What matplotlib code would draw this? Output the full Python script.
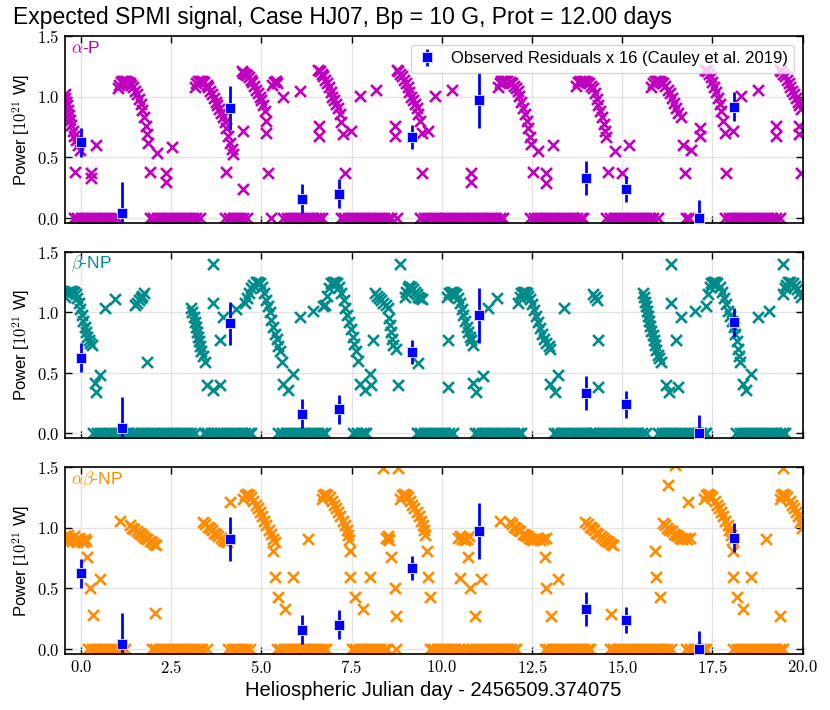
import numpy as np
import matplotlib
matplotlib.use('Agg')
import matplotlib.pyplot as plt
from matplotlib.ticker import FuncFormatter, MultipleLocator

plt.rcParams['font.family'] = ['Liberation Sans', 'DejaVu Sans']
plt.rcParams['mathtext.fontset'] = 'cm'

# observed residuals (Cauley et al. 2019), scaled x16
obs_t = [0.0, 1.14, 4.13, 6.13, 7.15, 9.18, 11.03, 14.0, 15.1, 17.13, 18.09]
obs_p = [0.625, 0.04, 0.91, 0.16, 0.20, 0.67, 0.975, 0.333, 0.24, 0.0, 0.92]
obs_err = [0.12, 0.26, 0.18, 0.12, 0.12, 0.10, 0.23, 0.14, 0.11, 0.15, 0.12]

# ---- alpha-P ----
alpha_curve_t = [-0.45, -0.43, -0.41, -0.39, -0.37, -0.34, -0.31, -0.27, -0.23, -0.18, -0.13, -0.08, -0.03,
                 1.03, 1.06, 1.10, 1.15, 1.20, 1.25, 1.30, 1.35, 1.40, 1.45, 1.50, 1.55, 1.60, 1.65, 1.70, 1.75, 1.80, 1.84, 1.87,
                 3.16, 3.20, 3.25, 3.30, 3.36, 3.42, 3.48, 3.53, 3.58, 3.63, 3.68, 3.73, 3.78, 3.83, 3.88, 3.93, 3.98, 4.03, 4.08, 4.13, 4.18,
                 4.45, 4.50, 4.55, 4.60, 4.65, 4.70, 4.75, 4.80, 4.85, 4.90, 4.95, 5.00, 5.05, 5.10, 5.12, 5.14,
                 6.57, 6.62, 6.67, 6.72, 6.77, 6.82, 6.87, 6.92, 6.97, 7.02, 7.07, 7.12, 7.17, 7.20, 7.27,
                 8.75, 8.80, 8.85, 8.90, 8.95, 9.00, 9.05, 9.10, 9.15, 9.20, 9.25, 9.30, 9.34, 9.39, 9.44,
                 11.56, 11.60, 11.65, 11.70, 11.76, 11.82, 11.88, 11.94, 12.00, 12.05, 12.10, 12.15, 12.20, 12.25, 12.30, 12.35, 12.40, 12.44, 12.47,
                 13.73, 13.78, 13.84, 13.90, 13.96, 14.02, 14.08, 14.14, 14.19, 14.24, 14.29, 14.34, 14.39, 14.44, 14.49, 14.53, 14.56,
                 15.80, 15.85, 15.90, 15.96, 16.02, 16.08, 16.14, 16.20, 16.26, 16.32, 16.38, 16.44, 16.50, 16.56, 16.62,
                 17.30, 17.35, 17.40, 17.45, 17.50, 17.55, 17.60, 17.65, 17.70, 17.75, 17.79, 17.84,
                 19.36, 19.41, 19.46, 19.51, 19.56, 19.61, 19.66, 19.71, 19.76, 19.81, 19.86, 19.91, 19.96]
alpha_curve_p = [1.02, 0.99, 0.96, 0.93, 0.89, 0.85, 0.81, 0.77, 0.72, 0.68, 0.64, 0.60, 0.56,
                 1.07, 1.10, 1.12, 1.13, 1.13, 1.13, 1.12, 1.11, 1.10, 1.08, 1.05, 1.02, 0.98, 0.94, 0.89, 0.83, 0.76, 0.69, 0.62,
                 1.08, 1.11, 1.13, 1.13, 1.13, 1.12, 1.10, 1.08, 1.05, 1.02, 0.99, 0.96, 0.93, 0.90, 0.87, 0.83, 0.79, 0.74, 0.68, 0.62, 0.57,
                 1.21, 1.20, 1.19, 1.18, 1.16, 1.14, 1.12, 1.09, 1.06, 1.03, 1.00, 0.97, 0.93, 0.88, 0.80, 0.70,
                 1.22, 1.21, 1.19, 1.17, 1.14, 1.11, 1.08, 1.04, 1.00, 0.97, 0.94, 0.91, 0.86, 0.79, 0.69,
                 1.22, 1.21, 1.19, 1.17, 1.14, 1.11, 1.08, 1.04, 1.00, 0.97, 0.94, 0.91, 0.86, 0.80, 0.70,
                 1.08, 1.11, 1.13, 1.13, 1.13, 1.13, 1.12, 1.11, 1.09, 1.07, 1.05, 1.01, 0.96, 0.91, 0.86, 0.80, 0.74, 0.67, 0.61,
                 1.09, 1.12, 1.13, 1.13, 1.13, 1.12, 1.11, 1.09, 1.07, 1.03, 0.98, 0.93, 0.88, 0.83, 0.78, 0.72, 0.67,
                 1.08, 1.11, 1.13, 1.13, 1.13, 1.12, 1.11, 1.09, 1.06, 1.03, 0.99, 0.95, 0.91, 0.87, 0.83,
                 1.22, 1.21, 1.19, 1.16, 1.12, 1.08, 1.04, 0.99, 0.94, 0.88, 0.80, 0.70,
                 1.22, 1.21, 1.19, 1.17, 1.14, 1.11, 1.08, 1.05, 1.02, 0.99, 0.96, 0.93, 0.90]
alpha_scat_t = [-0.17, 0.28, 0.29, 0.42, 2.10, 2.51, 1.91, 2.35, 2.37, 4.22, 4.03, 4.48, 4.48, 5.19, 5.30, 5.35, 5.40, 5.44,
                5.60, 6.07, 6.60, 6.60, 7.31, 7.47, 7.73, 8.19, 8.70, 8.70, 9.62, 9.44, 9.80, 10.28, 10.82, 10.82,
                12.66, 13.08, 12.53, 12.90, 12.90, 14.79, 15.19, 14.61, 15.00, 16.69, 16.92, 17.15, 17.15, 16.74,
                18.07, 18.30, 18.76, 17.88, 19.27, 19.27, 19.90, 19.90, 19.96]
alpha_scat_p = [0.38, 0.37, 0.33, 0.60, 0.54, 0.59, 0.38, 0.37, 0.30, 0.53, 0.38, 0.72, 0.24, 0.37, 1.10, 1.12, 1.13, 1.11,
                1.00, 1.05, 0.76, 0.68, 0.375, 0.72, 1.01, 1.06, 0.76, 0.68, 0.72, 0.375, 1.01, 1.06, 0.37, 0.30,
                0.55, 0.60, 0.38, 0.37, 0.29, 0.55, 0.60, 0.38, 0.37, 0.60, 0.56, 0.74, 0.675, 0.375,
                0.72, 1.01, 1.06, 0.375, 0.76, 0.675, 0.76, 0.69, 0.37]
alpha_zero_t = [-0.2, -0.1, 0.0, 0.1, 0.2, 0.3, 0.4, 0.5, 0.6, 0.7, 0.8, 0.9, 1.0,
                1.9, 2.0, 2.1, 2.2, 2.3, 2.4, 2.5, 2.6, 2.7, 2.8, 2.9, 3.0, 3.1, 3.2, 3.3,
                4.0, 4.1, 4.2, 4.3, 4.4, 4.5, 4.6, 5.28,
                5.6, 5.7, 5.8, 5.9, 6.0, 6.1, 6.2, 6.3, 6.4, 6.5, 6.6, 6.68,
                7.2, 7.3, 7.4, 7.5, 7.6, 7.7, 7.8, 7.9, 8.0, 8.1, 8.2, 8.3, 8.4, 8.5, 8.6, 8.75,
                9.4, 9.5, 9.6, 9.7, 9.8, 9.9, 10.0, 10.1, 10.2, 10.3, 10.4, 10.5, 10.6, 10.7, 10.8, 10.9,
                11.0, 11.1, 11.2, 11.3, 11.4, 11.5, 11.6, 11.7,
                12.45, 12.55, 12.65, 12.75, 12.85, 12.95, 13.05, 13.15, 13.25, 13.35, 13.45, 13.55, 13.65, 13.75, 13.85, 13.92,
                14.56, 14.66, 14.76, 14.86, 14.96, 15.06, 15.16, 15.26, 15.36, 15.46, 15.56, 15.66, 15.76, 15.86, 16.0,
                16.76, 16.85,
                17.85, 17.95, 18.05, 18.15, 18.25, 18.35, 18.45, 18.55, 18.65, 18.75, 18.85, 18.95, 19.05, 19.15, 19.25, 19.36]

# ---- beta-NP ----
beta_curve_t = [-0.45, -0.40, -0.35, -0.30, -0.25, -0.20, -0.15, -0.10, -0.06, -0.02, 0.02, 0.06, 0.10, 0.14, 0.18, 0.22, 0.26, 0.30,
                1.50, 1.55, 1.60, 1.65, 1.70, 1.75,
                3.06, 3.09, 3.12, 3.15, 3.18, 3.21, 3.24, 3.27, 3.30, 3.33, 3.37, 3.43,
                4.54, 4.60, 4.66, 4.72, 4.78, 4.84, 4.90, 4.96, 5.02, 5.08, 5.13, 5.18, 5.23, 5.28, 5.33, 5.38, 5.42, 5.47, 5.51, 5.56,
                6.76, 6.82, 6.87, 6.92, 6.98, 7.04, 7.10, 7.16, 7.22, 7.28, 7.33, 7.38, 7.43, 7.48, 7.53, 7.58, 7.63, 7.68,
                8.14, 8.20, 8.26, 8.32, 8.38, 8.44, 8.50, 8.53, 8.56, 8.58, 8.61, 8.66, 8.72,
                8.98, 9.02, 9.06, 9.10, 9.15, 9.20, 9.25, 9.30, 9.35, 9.40, 9.45,
                10.15, 10.20, 10.25, 10.30, 10.35, 10.40, 10.45, 10.50, 10.55, 10.60, 10.65, 10.70, 10.74, 10.78, 10.82, 10.87,
                12.12, 12.16, 12.20, 12.25, 12.30, 12.35, 12.40, 12.45, 12.50, 12.55, 12.60, 12.66, 12.72, 12.78, 12.84, 12.90, 12.96, 13.00,
                15.57, 15.60, 15.63, 15.66, 15.69, 15.72, 15.75, 15.78, 15.81, 15.84, 15.87, 15.90, 15.94, 15.98, 16.03, 16.08,
                17.38, 17.42, 17.47, 17.52, 17.58, 17.64, 17.70, 17.76, 17.82, 17.88, 17.94, 18.00, 18.05, 18.10, 18.14, 18.18, 18.21, 18.24, 18.26,
                19.50, 19.55, 19.60, 19.66, 19.72, 19.78, 19.84, 19.90, 19.96]
beta_curve_p = [1.13, 1.16, 1.17, 1.18, 1.18, 1.17, 1.15, 1.12, 1.08, 1.03, 0.98, 0.93, 0.88, 0.84, 0.80, 0.77, 0.75, 0.73,
                1.06, 1.08, 1.10, 1.12, 1.14, 1.16,
                1.04, 1.00, 0.96, 0.92, 0.88, 0.84, 0.80, 0.76, 0.72, 0.68, 0.64, 0.59,
                1.08, 1.12, 1.16, 1.20, 1.23, 1.25, 1.25, 1.24, 1.21, 1.16, 1.10, 1.05, 1.00, 0.94, 0.88, 0.82, 0.78, 0.72, 0.68, 0.59,
                1.06, 1.14, 1.20, 1.24, 1.25, 1.25, 1.24, 1.21, 1.16, 1.10, 1.04, 0.98, 0.92, 0.86, 0.80, 0.74, 0.68, 0.60,
                1.16, 1.14, 1.12, 1.10, 1.08, 1.06, 1.04, 0.95, 0.90, 0.84, 0.78, 0.73, 0.70,
                1.13, 1.17, 1.20, 1.22, 1.21, 1.19, 1.17, 1.15, 1.13, 1.12, 1.11,
                1.13, 1.16, 1.17, 1.17, 1.16, 1.15, 1.12, 1.08, 1.03, 0.98, 0.93, 0.88, 0.84, 0.80, 0.77, 0.73,
                1.08, 1.13, 1.16, 1.17, 1.17, 1.16, 1.14, 1.11, 1.07, 1.02, 0.97, 0.92, 0.87, 0.82, 0.78, 0.75, 0.72, 0.70,
                1.16, 1.13, 1.09, 1.05, 1.01, 0.97, 0.93, 0.89, 0.85, 0.81, 0.77, 0.73, 0.69, 0.65, 0.62, 0.59,
                1.15, 1.21, 1.24, 1.25, 1.25, 1.24, 1.21, 1.17, 1.12, 1.07, 1.01, 0.97, 0.93, 0.88, 0.82, 0.76, 0.70, 0.64, 0.59,
                1.20, 1.23, 1.25, 1.25, 1.24, 1.22, 1.19, 1.16, 1.13]
beta_scat_t = [0.39, 0.41, 0.53, 0.66, 0.94, 1.82, 3.67, 3.48, 3.67, 3.85, 3.67, 3.85, 3.94, 4.30,
               5.60, 5.74, 5.88, 6.07, 6.43, 6.71, 7.73, 7.87, 8.00, 8.05, 8.10, 8.84, 8.79, 9.34,
               10.17, 10.17, 10.87, 10.96, 11.14, 11.28, 11.52, 13.00, 13.13, 13.22, 13.40,
               14.19, 14.24, 14.29, 14.33, 14.33, 16.36, 16.36, 16.64, 17.01, 17.33, 16.50, 16.22, 16.30, 16.55,
               18.35, 18.44, 18.58, 18.76, 19.08, 19.45, 19.45]
beta_scat_p = [0.42, 0.34, 0.48, 1.04, 1.11, 0.59, 1.40, 0.40, 0.36, 0.40, 1.08, 0.77, 0.96, 1.03,
               0.41, 0.36, 0.49, 0.96, 1.01, 1.055, 0.41, 0.36, 0.49, 0.40, 0.77, 1.40, 0.40, 0.58,
               0.77, 0.38, 0.42, 0.34, 0.47, 1.04, 1.12, 0.41, 0.34, 0.48, 1.04,
               1.15, 1.13, 1.10, 0.77, 0.38, 1.40, 1.08, 0.96, 1.01, 1.055, 0.77, 0.40, 0.34, 0.38,
               0.41, 0.36, 0.49, 0.96, 1.01, 1.40, 1.15]
beta_zero_t = [0.34, 0.44, 0.54, 0.64, 0.74, 0.84, 0.94, 1.04, 1.14, 1.24, 1.34, 1.44, 1.54,
               1.66, 1.76, 1.86, 1.96, 2.06, 2.16, 2.26, 2.36, 2.46, 2.56, 2.66, 2.76, 2.86, 2.96, 3.06, 3.16,
               3.40, 3.50, 3.60, 3.70, 3.76,
               3.85, 3.95, 4.05, 4.15, 4.25, 4.35, 4.45, 4.55, 4.65, 4.72,
               5.47, 5.57, 5.67, 5.77, 5.87, 5.97, 6.07, 6.17, 6.27, 6.37, 6.47, 6.57, 6.67, 6.77,
               7.55, 7.65, 7.75, 7.85, 7.91,
               9.30, 9.40, 9.50, 9.60, 9.70, 9.80, 9.90, 10.0, 10.1, 10.2, 10.3,
               10.91, 11.01, 11.11, 11.21, 11.31, 11.41, 11.51, 11.61, 11.71, 11.81, 11.91, 12.01, 12.11, 12.20,
               13.10, 13.20, 13.30, 13.40, 13.50, 13.60, 13.70, 13.80, 13.90, 14.00, 14.10, 14.20, 14.25,
               14.35, 14.45, 14.55, 14.65, 14.75, 14.85, 14.95, 15.05, 15.15, 15.25, 15.35, 15.45, 15.55, 15.65,
               15.99, 16.09, 16.19, 16.29, 16.39, 16.49, 16.59, 16.69, 16.79, 16.89, 16.99, 17.09, 17.19, 17.29, 17.33,
               18.16, 18.26, 18.36, 18.46, 18.56, 18.66, 18.76, 18.86, 18.96, 19.06, 19.16, 19.26, 19.36, 19.46, 19.50]

# ---- alpha-beta-NP ----
ab_curve_t = [-0.45, -0.40, -0.35, -0.30, -0.25, -0.20, -0.15, -0.10, -0.05, 0.00, 0.05, 0.10, 0.15,
              1.36, 1.42, 1.48, 1.54, 1.60, 1.66, 1.72, 1.78, 1.84, 1.90, 1.96, 2.02, 2.08,
              3.39, 3.45, 3.51, 3.57, 3.63, 3.69, 3.75, 3.81, 3.87, 3.93, 3.99, 4.04,
              4.50, 4.55, 4.60, 4.66, 4.72, 4.78, 4.84, 4.90, 4.96, 5.02, 5.08, 5.14, 5.20, 5.26, 5.32, 5.37,
              6.67, 6.72, 6.77, 6.83, 6.89, 6.95, 7.01, 7.07, 7.13, 7.19, 7.25, 7.31, 7.36, 7.40, 7.43,
              8.84, 8.89, 8.94, 9.00, 9.06, 9.12, 9.18, 9.24, 9.30, 9.36, 9.42, 9.47, 9.51, 9.53,
              10.45, 10.50, 10.55, 10.60, 10.65, 10.70, 10.76,
              11.88, 11.94, 12.00, 12.06, 12.12, 12.18, 12.24, 12.30, 12.36, 12.42, 12.48, 12.54, 12.60, 12.66, 12.72, 12.80, 12.88,
              13.98, 14.04, 14.10, 14.16, 14.22, 14.28, 14.34, 14.40, 14.46, 14.52, 14.58, 14.64, 14.70, 14.74,
              16.13, 16.19, 16.25, 16.31, 16.37, 16.43, 16.49, 16.55, 16.61, 16.67, 16.73, 16.80, 16.87,
              17.28, 17.33, 17.38, 17.44, 17.50, 17.56, 17.62, 17.68, 17.74, 17.80, 17.86, 17.92, 17.97, 18.01, 18.04,
              19.36, 19.41, 19.46, 19.52, 19.58, 19.64, 19.70, 19.76, 19.82, 19.88, 19.93, 19.98]
ab_curve_p = [0.93, 0.90, 0.94, 0.91, 0.89, 0.93, 0.90, 0.88, 0.92, 0.90, 0.88, 0.91, 0.89,
              1.02, 1.00, 0.99, 0.97, 0.96, 0.95, 0.93, 0.92, 0.91, 0.89, 0.88, 0.87, 0.86,
              1.05, 1.03, 1.01, 1.00, 0.98, 0.96, 0.95, 0.93, 0.92, 0.90, 0.89, 0.88,
              1.24, 1.27, 1.28, 1.27, 1.25, 1.22, 1.19, 1.16, 1.13, 1.10, 1.06, 1.02, 0.98, 0.95, 0.91, 0.88,
              1.24, 1.27, 1.28, 1.27, 1.25, 1.22, 1.19, 1.16, 1.13, 1.10, 1.06, 1.02, 0.98, 0.94, 0.90,
              1.24, 1.27, 1.28, 1.27, 1.25, 1.22, 1.19, 1.16, 1.13, 1.10, 1.06, 1.02, 0.98, 0.94,
              0.92, 0.93, 0.91, 0.92, 0.90, 0.91, 0.93,
              1.05, 1.03, 1.01, 1.00, 0.98, 0.97, 0.95, 0.94, 0.93, 0.92, 0.91, 0.90, 0.91, 0.92, 0.90, 0.91, 0.92,
              1.05, 1.03, 1.01, 1.00, 0.98, 0.96, 0.95, 0.93, 0.92, 0.90, 0.89, 0.88, 0.87, 0.86,
              1.04, 1.02, 1.00, 0.98, 0.97, 0.95, 0.94, 0.93, 0.92, 0.91, 0.92, 0.91, 0.92,
              1.24, 1.27, 1.28, 1.27, 1.25, 1.22, 1.19, 1.16, 1.13, 1.10, 1.06, 1.02, 0.98, 0.94, 0.90,
              1.24, 1.27, 1.28, 1.27, 1.25, 1.22, 1.19, 1.16, 1.13, 1.10, 1.05, 1.00]
ab_scat_t = [0.16, 0.53, 0.25, 0.34, 1.08, 2.05, 4.13, 5.33, 5.37, 5.88, 5.47, 5.65, 6.30,
             7.45, 7.45, 8.00, 7.59, 7.82, 8.38, 8.79, 8.45, 8.50, 8.55, 8.52, 8.60, 8.70, 8.74,
             9.58, 9.62, 9.67, 10.73, 10.50, 10.78, 11.10, 10.91, 11.61, 12.85, 12.90, 13.22, 13.04, 14.70,
             16.27, 16.82, 16.46, 15.90, 15.95, 16.04, 18.07, 18.07, 18.58, 18.17, 18.35, 19.36, 18.99, 19.45]
ab_scat_p = [0.76, 0.58, 0.50, 0.28, 1.06, 0.30, 1.215, 0.81, 0.593, 0.593, 0.43, 0.33, 0.91,
             0.81, 0.593, 0.593, 0.43, 0.33, 1.49, 1.49, 0.92, 0.91, 0.90, 0.93, 0.76, 0.50, 0.276,
             0.81, 0.593, 0.43, 0.76, 0.59, 0.50, 0.58, 0.276, 1.06, 0.76, 0.50, 0.58, 0.276, 0.29,
             1.35, 1.21, 1.52, 0.81, 0.593, 0.43, 0.81, 0.593, 0.593, 0.43, 0.33, 0.27, 0.91, 1.49]
ab_zero_t = [0.20, 0.30, 0.40, 0.50, 0.60, 0.70, 0.80, 0.90, 1.00, 1.10, 1.22,
             1.96, 2.06, 2.16, 2.26, 2.36, 2.46, 2.56, 2.66, 2.76, 2.86, 2.96, 3.06, 3.16, 3.26, 3.36, 3.48,
             4.08, 4.18, 4.28, 4.38, 4.48, 4.58, 4.68,
             5.42, 5.52, 5.62, 5.72, 5.82, 5.92, 6.02, 6.12, 6.22, 6.32, 6.42, 6.52, 6.62, 6.72, 6.80,
             7.50, 7.60, 7.70, 7.80, 7.90, 8.00, 8.10, 8.20, 8.30, 8.40, 8.47, 8.74,
             9.67, 9.77, 9.87, 9.97, 10.07, 10.17, 10.27, 10.37, 10.47, 10.59,
             10.73, 10.83, 10.93, 11.03, 11.13, 11.23, 11.33, 11.43, 11.53, 11.63, 11.73, 11.83, 11.93, 12.03, 12.07,
             12.85, 12.95, 13.05, 13.15, 13.25, 13.35, 13.45, 13.55, 13.65, 13.75, 13.85, 13.95, 14.05, 14.12,
             14.65, 14.75, 14.85, 14.95, 15.05, 15.15, 15.25, 15.35, 15.45, 15.55, 15.65, 15.75, 15.85, 15.95, 16.05, 16.15, 16.25, 16.36,
             16.78, 16.88, 16.98, 17.08, 17.18, 17.28, 17.33,
             18.07, 18.17, 18.27, 18.37, 18.47, 18.57, 18.67, 18.77, 18.87, 18.97, 19.07, 19.17, 19.27, 19.37, 19.45]

panels = [
    (r'$\alpha$-P', 'm', alpha_curve_t, alpha_curve_p, alpha_scat_t, alpha_scat_p, alpha_zero_t),
    (r'$\beta$-NP', '#008b8b', beta_curve_t, beta_curve_p, beta_scat_t, beta_scat_p, beta_zero_t),
    (r'$\alpha\beta$-NP', 'darkorange', ab_curve_t, ab_curve_p, ab_scat_t, ab_scat_p, ab_zero_t),
]

fig = plt.figure(figsize=(8.3, 7.1), dpi=100)
rects = [[0.078, 0.686, 0.889, 0.263],
         [0.078, 0.383, 0.889, 0.262],
         [0.078, 0.079, 0.889, 0.263]]

fmt = FuncFormatter(lambda v, p: '$%.1f$' % v)

for i, (lab, col, ct, cp, st, sp, zt) in enumerate(panels):
    ax = fig.add_axes(rects[i])
    ax.grid(True, color='#e4e4e4', lw=1.0, zorder=0)
    t = np.concatenate([ct, st, zt])
    p = np.concatenate([cp, sp, np.zeros(len(zt))])
    ax.scatter(t, p, marker='x', s=62, linewidths=1.9, color=col, zorder=2)
    ax.errorbar(obs_t, obs_p, yerr=obs_err, fmt='s', color='blue', ms=6.5,
                mec='#d0d0ff', mew=0.7, elinewidth=2.0, capsize=0, zorder=4,
                label='Observed Residuals x 16 (Cauley et al. 2019)')
    ax.set_xlim(-0.45, 20.0)
    ax.set_ylim(-0.04, 1.5)
    ax.xaxis.set_major_locator(MultipleLocator(2.5))
    ax.yaxis.set_major_locator(MultipleLocator(0.5))
    ax.xaxis.set_major_formatter(fmt)
    ax.yaxis.set_major_formatter(fmt)
    ax.tick_params(direction='in', top=True, right=True, length=5, width=1.0, labelsize=12)
    for s in ax.spines.values():
        s.set_linewidth(1.2)
    ax.set_ylabel(r'Power [$10^{21}$ W]', fontsize=12)
    ax.text(0.008, 0.935, lab, transform=ax.transAxes, color=col, fontsize=12.5, va='center', ha='left')
    if i < 2:
        ax.tick_params(labelbottom=False)
    if i == 0:
        ax.legend(loc='upper right', fontsize=12, handlelength=1.2, borderpad=0.4)
    if i == 2:
        ax.set_xlabel('Heliospheric Julian day - 2456509.374075', fontsize=14.5)

fig.text(0.016, 0.975, 'Expected SPMI signal, Case HJ07, Bp = 10 G, Prot = 12.00 days',
         fontsize=16.5, ha='left', va='center')

fig.savefig('out.png', dpi=100)
